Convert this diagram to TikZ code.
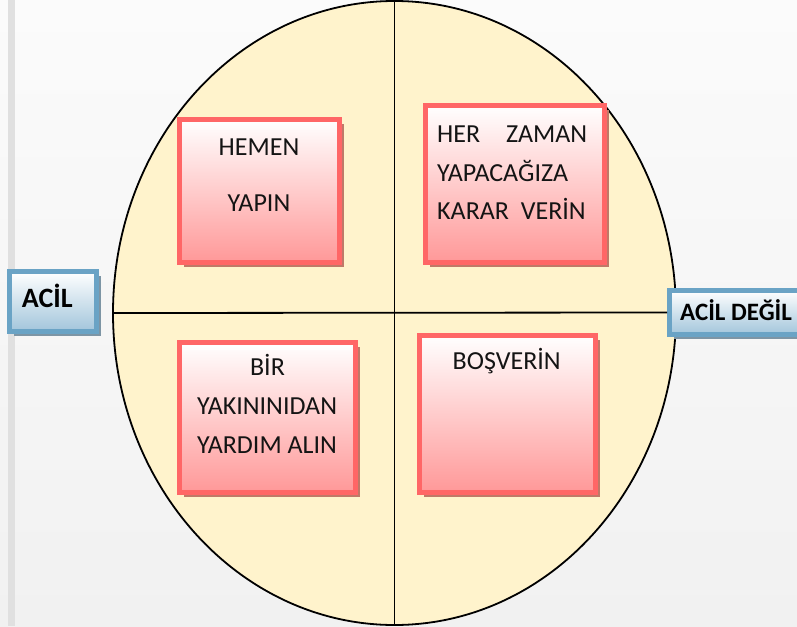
\documentclass[tikz,border=0pt]{standalone}
\usepackage{fontspec}
\setmainfont{Carlito}
\usetikzlibrary{shadows,shapes.geometric}
\definecolor{bgtop}{HTML}{FBFBFB}
\definecolor{bgbot}{HTML}{F1F1F1}
\definecolor{stripe}{HTML}{E0E0E0}
\definecolor{ellfill}{HTML}{FFF3CC}
\definecolor{boxred}{HTML}{FF6666}
\definecolor{boxpink}{HTML}{FF9898}
\definecolor{redshadow}{HTML}{C07868}
\definecolor{boxblue}{HTML}{6AA3C5}
\definecolor{bluefill}{HTML}{A2C5DB}
\definecolor{blueshadow}{HTML}{7D95A5}
\definecolor{txt}{HTML}{141414}
\begin{document}
\begin{tikzpicture}[x=1pt,y=-1pt,
  redbox/.style={draw=boxred, line width=5pt, top color=white, bottom color=boxpink,
    inner sep=0pt, drop shadow={shadow xshift=4pt, shadow yshift=-4pt, fill=redshadow, opacity=1}},
  bluebox/.style={draw=boxblue, line width=5pt, top color=white, bottom color=bluefill,
    inner sep=0pt, drop shadow={shadow xshift=4pt, shadow yshift=-4pt, fill=blueshadow, opacity=1}},
  boxtext/.style={anchor=base, inner sep=0pt, text=txt, font=\fontsize{26}{31}\selectfont},
  lefttext/.style={boxtext, anchor=base west},
  bluetext/.style={anchor=base west, inner sep=0pt, text=black, font=\fontsize{28}{34}\selectfont\bfseries},
  axis/.style={line width=1.8pt, draw=black}
]
\useasboundingbox (0,0) rectangle (797,626);
\clip (0,0) rectangle (797,626);
\fill[top color=bgtop, bottom color=bgbot] (0,0) rectangle (797,626);
\fill[stripe] (8,0) rectangle (15,626);

\node[ellipse, draw=black, line width=1.8pt, fill=ellfill, inner sep=0pt,
  minimum width=563pt, minimum height=624pt] (ell) at (394.5,313) {};

\node[bluebox, minimum width=150pt, minimum height=44pt] (degil) at (744.5,312.5) {};
\draw[axis] (ell.north) -- (ell.south);
\draw[axis] (ell.west) -- (degil.west);
\node[bluebox, minimum width=87pt, minimum height=60pt] (acil) at (53,301.5) {};

\node[redbox, minimum width=160pt, minimum height=143pt] (b1) at (259.5,191) {};
\node[redbox, minimum width=179pt, minimum height=157pt] (b2) at (515,184) {};
\node[redbox, minimum width=176pt, minimum height=150pt] (b3) at (267.5,417.5) {};
\node[redbox, minimum width=176pt, minimum height=157pt] (b4) at (507.5,414) {};

\node[boxtext] (t1a) at (259,155) {HEMEN};
\node[boxtext] (t1b) at (259,211) {YAPIN};

\node[lefttext] (t2a) at (437,142.7) {\makebox[150pt][l]{HER\hfill ZAMAN}};
\node[lefttext] (t2b) at (437,181) {YAPACAĞIZA};
\node[lefttext] (t2c) at (437,219.3) {KARAR\ \ VERİN};

\node[boxtext] (t3a) at (267.5,375) {BİR};
\node[boxtext] (t3b) at (267,414.3) {YAKININIDAN};
\node[boxtext] (t3c) at (267,453.3) {YARDIM ALIN};

\node[boxtext] (t4a) at (506.7,369) {BOŞVERİN};

\node[bluetext] (acilt) at (21.7,307) {ACİL};
\node[bluetext, font=\fontsize{25}{30}\selectfont\bfseries] (degilt) at (680,320.7) {ACİL DEĞİL};
\end{tikzpicture}
\end{document}
